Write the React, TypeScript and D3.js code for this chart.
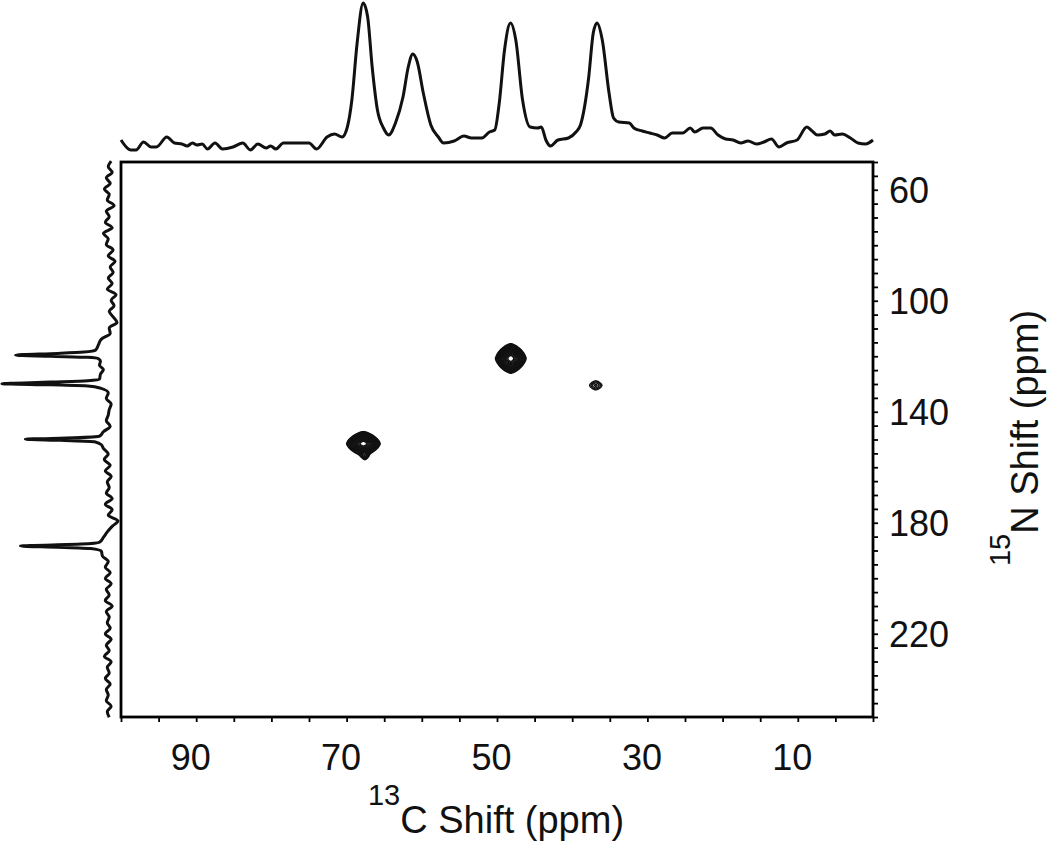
import React, { useEffect, useRef } from "react";
import * as d3 from "d3";

const W = 1050, H = 849;

// axis labels
const carbonTicks = [90, 70, 50, 30, 10];
const nitrogenTicks = [60, 100, 140, 180, 220];

// 1D 13C projection (top), ppm + relative intensity
const carbonPpm = [100.0, 99.3, 98.7, 98.0, 97.0, 96.0, 95.3, 93.9, 92.9, 91.9, 91.2, 90.5, 89.9, 89.2, 88.5, 87.5, 86.5, 85.1, 83.8, 82.8, 81.8, 80.7, 80.1, 79.4, 78.4, 76.7, 75.0, 74.0, 72.6, 71.6, 70.6, 69.9, 69.3, 68.6, 67.8, 67.2, 66.6, 65.9, 65.1, 64.4, 63.5, 62.5, 61.8, 61.2, 60.6, 59.8, 58.8, 57.8, 57.1, 55.7, 54.4, 53.4, 52.0, 51.0, 50.3, 49.7, 49.0, 48.2, 47.5, 46.6, 45.6, 44.6, 44.1, 43.5, 42.9, 41.9, 40.5, 39.5, 38.9, 37.8, 37.2, 36.7, 36.0, 35.1, 34.5, 33.8, 32.4, 31.8, 30.7, 29.7, 28.7, 27.7, 26.7, 25.3, 24.3, 23.7, 22.6, 21.6, 20.6, 19.6, 18.6, 17.6, 16.6, 15.5, 14.5, 13.5, 12.5, 11.5, 10.1, 8.8, 8.1, 7.4, 6.4, 5.7, 5.1, 4.1, 3.0, 2.0, 1.0, 0.0];
const carbonIntensity = [10, 3, 0, 0, 8, 3, 3, 13, 7, 6, 4, 7, 5, 6, 1, 7, 1, 3, 7, 0, 6, 2, 4, 1, 7, 7, 7, 1, 13, 16, 13, 23, 50, 107, 147, 133, 83, 40, 22, 15, 27, 53, 83, 96, 88, 57, 25, 13, 7, 9, 14, 12, 12, 18, 20, 47, 100, 127, 110, 50, 23, 22, 23, 10, 4, 10, 12, 18, 25, 73, 117, 127, 110, 57, 32, 28, 27, 22, 19, 17, 15, 12, 17, 17, 22, 18, 22, 22, 15, 11, 10, 7, 9, 6, 8, 11, 3, 7, 10, 23, 19, 15, 16, 19, 15, 16, 12, 7, 6, 10];

// 1D 15N projection (left)
const nitrogenPpm = [49.7, 51.7, 53.7, 55.7, 57.7, 59.7, 61.7, 63.7, 65.7, 67.7, 69.7, 71.7, 73.7, 75.7, 77.7, 79.7, 81.7, 83.8, 85.8, 87.8, 89.8, 91.8, 93.8, 95.8, 97.8, 99.8, 101.8, 103.8, 105.8, 107.8, 109.8, 111.8, 113.8, 115.8, 117.8, 118.5, 119.0, 119.6, 120.0, 120.4, 120.9, 121.8, 123.2, 124.8, 126.5, 128.3, 128.8, 129.3, 129.9, 130.3, 130.7, 131.5, 133.2, 135.2, 137.2, 139.2, 141.2, 143.2, 145.2, 147.2, 148.8, 149.4, 149.9, 150.3, 150.8, 151.9, 153.2, 155.2, 157.2, 159.3, 161.3, 163.3, 165.3, 167.3, 169.3, 171.3, 173.3, 175.3, 177.3, 179.3, 181.3, 183.3, 185.3, 187.0, 187.7, 188.4, 188.8, 189.3, 190.3, 192.0, 194.0, 196.0, 198.0, 200.0, 202.0, 204.0, 206.0, 208.0, 210.0, 212.0, 214.0, 216.0, 218.0, 220.0, 222.0, 224.1, 226.1, 228.1, 230.1, 232.1, 234.1, 236.1, 238.1, 240.1, 242.1, 244.1, 246.1, 248.1, 250.1];
const nitrogenIntensity = [7, 10, 6, 12, 8, 14, 9, 11, 4, 12, 9, 13, 6, 15, 10, 12, 5, 10, 3, 8, 5, 10, 6, 11, 2, 7, 4, 9, 5, 1, 9, 8, 17, 20, 23, 35, 62, 105, 69, 31, 20, 18, 19, 15, 18, 19, 31, 69, 119, 69, 31, 18, 10, 12, 7, 9, 10, 12, 8, 15, 19, 45, 95, 59, 24, 17, 15, 10, 14, 8, 13, 7, 11, 9, 12, 6, 13, 6, 10, 0, 6, 11, 15, 19, 38, 100, 62, 28, 17, 16, 10, 13, 8, 13, 7, 12, 9, 13, 6, 12, 9, 11, 8, 13, 7, 12, 9, 14, 7, 11, 9, 13, 8, 12, 10, 12, 7, 11, 9];

// 2D cross peaks: 13C ppm, 15N ppm, height, half widths (ppm)
const peakCarbon = [67.8, 67.6, 48.2, 36.9];
const peakNitrogen = [151.4, 155.8, 120.7, 130.4];
const peakHeight = [1, 0.06, 1, 0.042];
const peakWidthC = [0.9, 0.4, 0.82, 1.0];
const peakWidthN = [1.75, 1.2, 2.15, 2.0];
const contourLevels = [0.02, 0.025, 0.031, 0.039, 0.049, 0.061, 0.076, 0.095, 0.119, 0.149, 0.186, 0.233, 0.291, 0.364, 0.455, 0.569, 0.711];

export default function App() {
  const ref = useRef<SVGSVGElement>(null);

  useEffect(() => {
    const svg = d3.select(ref.current);
    svg.selectAll("*").remove();
    const font = "'Liberation Sans', Arial, Helvetica, sans-serif";

    const x = d3.scaleLinear().domain([100, 0]).range([121, 873]);
    const y = d3.scaleLinear().domain([50, 250]).range([162, 717]);
    const yTop = d3.scaleLinear().domain([0, 147]).range([150, 3]);
    const xLeft = d3.scaleLinear().domain([0, 121]).range([118, 0]);

    // top projection
    const topLine = d3.line<number>()
      .x((d, i) => x(carbonPpm[i]))
      .y(d => yTop(d))
      .curve(d3.curveMonotoneX);
    svg.append("path")
      .attr("d", topLine(carbonIntensity))
      .attr("fill", "none").attr("stroke", "#111").attr("stroke-width", 3)
      .attr("stroke-linejoin", "round");

    // left projection
    const leftLine = d3.line<number>()
      .x(d => xLeft(d))
      .y((d, i) => y(nitrogenPpm[i]))
      .curve(d3.curveMonotoneY);
    svg.append("path")
      .attr("d", leftLine(nitrogenIntensity))
      .attr("fill", "none").attr("stroke", "#111").attr("stroke-width", 3)
      .attr("stroke-linejoin", "round");

    // contour grid around the cross peaks
    const cell = 0.5;
    const px = peakCarbon.map(c => x(c)), py = peakNitrogen.map(n => y(n));
    const x0 = d3.min(px)! - 40, x1 = d3.max(px)! + 40;
    const y0 = d3.min(py)! - 40, y1 = d3.max(py)! + 40;
    const nx = Math.ceil((x1 - x0) / cell), ny = Math.ceil((y1 - y0) / cell);
    const wx = peakCarbon.map((c, i) => Math.abs(x(c + peakWidthC[i]) - x(c)));
    const wy = peakNitrogen.map((n, i) => Math.abs(y(n + peakWidthN[i]) - y(n)));
    const values = new Array(nx * ny);
    for (let j = 0; j < ny; j++) {
      for (let i = 0; i < nx; i++) {
        const gx = x0 + i * cell, gy = y0 + j * cell;
        let v = 0;
        for (let k = 0; k < px.length; k++) {
          const u = Math.abs(gx - px[k]) / wx[k], w = Math.abs(gy - py[k]) / wy[k];
          v += peakHeight[k] * Math.exp(-(Math.pow(u, 1.5) + Math.pow(w, 1.5)));
        }
        values[j * nx + i] = v;
      }
    }
    const contours = d3.contours().size([nx, ny]).thresholds(contourLevels)(values);
    const geo = d3.geoPath(d3.geoIdentity().scale(cell).translate([x0, y0]) as any);
    svg.append("g").selectAll("path").data(contours).join("path")
      .attr("d", d => geo(d as any))
      .attr("fill", "none").attr("stroke", "#111").attr("stroke-width", 1.4);

    // frame
    svg.append("rect")
      .attr("x", 121).attr("y", 162).attr("width", 752).attr("height", 555)
      .attr("fill", "none").attr("stroke", "#000").attr("stroke-width", 2.8);

    // bottom axis
    const ax = svg.append("g").attr("transform", "translate(0,717)")
      .call(d3.axisBottom(x).tickValues(d3.range(0, 101, 5)).tickSize(5)
        .tickFormat(d => (carbonTicks.includes(+d) ? String(d) : "")));
    ax.select(".domain").remove();
    ax.selectAll("line").attr("stroke", "#000").attr("stroke-width", 1.8);
    ax.selectAll("text").attr("font-family", font).attr("font-size", 36)
      .attr("fill", "#111").attr("y", 53).attr("dy", 0).attr("dx", -6);

    // right axis
    const ay = svg.append("g").attr("transform", "translate(873,0)")
      .call(d3.axisRight(y).tickValues(d3.range(50, 251, 5)).tickSize(5)
        .tickFormat(d => (nitrogenTicks.includes(+d) ? String(d) : "")));
    ay.select(".domain").remove();
    ay.selectAll("line").attr("stroke", "#000").attr("stroke-width", 1.8);
    ay.selectAll("text").attr("font-family", font).attr("font-size", 36)
      .attr("fill", "#111").attr("x", 16).attr("dy", "0.35em");

    // axis titles
    const xt = svg.append("text").attr("x", 496).attr("y", 833)
      .attr("text-anchor", "middle").attr("font-family", font).attr("font-size", 38).attr("fill", "#111");
    xt.append("tspan").attr("font-size", 29).attr("dy", -28).text("13");
    xt.append("tspan").attr("dy", 28).text("C Shift (ppm)");

    const yt = svg.append("text").attr("transform", "translate(1038,438) rotate(-90)")
      .attr("text-anchor", "middle").attr("font-family", font).attr("font-size", 38).attr("fill", "#111");
    yt.append("tspan").attr("font-size", 29).attr("dy", -28).text("15");
    yt.append("tspan").attr("dy", 28).text("N Shift (ppm)");
  }, []);

  return (
    <svg ref={ref} width={W} height={H}
      style={{ position: "absolute", left: 0, top: 0, background: "#fff" }} />
  );
}
